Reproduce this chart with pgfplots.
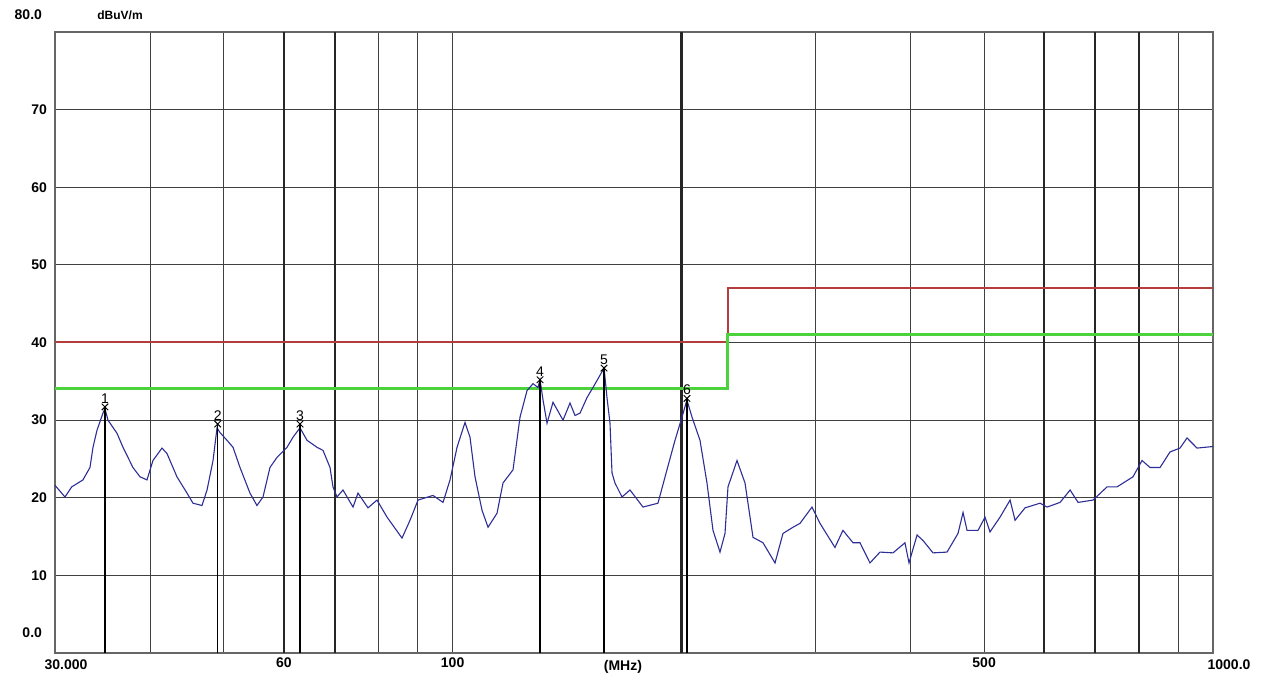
\documentclass[border=0pt]{standalone}
\usepackage{pgfplots}
\pgfplotsset{compat=1.18}
\usepackage{fontspec}
\setmainfont{Liberation Sans}
\definecolor{limred}{RGB}{180,62,62}
\definecolor{limgreen}{RGB}{75,210,60}
\definecolor{trace}{RGB}{45,45,150}
\begin{document}
\begin{tikzpicture}
\useasboundingbox (-27.5pt,-11pt) rectangle (608.5pt,326.5pt);
\begin{axis}[at={(0,0)}, anchor=south west, scale only axis,
  width=579pt, height=310.5pt,
  xmode=log, log basis x=10, xmin=30, xmax=1000, ymin=0, ymax=80,
  xtick={60,100,500}, xticklabels={60,100,500},
  minor xtick={40,50,70,80,90,200,300,400,600,700,800,900},
  extra x ticks={60,70,200,600,700,800}, extra x tick labels={},
  extra x tick style={grid=major, major grid style={black!85, line width=1.1pt}},
  ytick={10,20,30,40,50,60,70},
  yticklabels={10,20,30,40,50,60,70},
  /pgf/number format/assume math mode=true,
  grid=both,
  major grid style={black!75, line width=0.5pt},
  minor grid style={black!75, line width=0.5pt},
  major tick length=0pt, minor tick length=0pt,
  axis line style={black!60, line width=1pt},
  tick label style={font=\bfseries\fontsize{7}{8}\selectfont},
  yticklabel style={xshift=-0.5pt},
  xticklabel style={yshift=1pt},
  clip=false,
]
% limit lines
\addplot[limred, line width=1pt] coordinates {(30,40.1) (230,40.1) (230,47) (1000,47)};
\addplot[limgreen, line width=1.6pt] coordinates {(30,34.1) (230,34.1) (230,41) (1000,41)};
% trace
\addplot[trace, line width=0.55pt] coordinates {
(30.00,21.6) (30.92,20.1) (31.56,21.4) (32.65,22.3) (33.35,23.9) (33.66,26.5)
(34.07,28.7) (34.69,30.9) (34.90,31.5) (35.22,30.0) (36.20,28.3) (36.86,26.5)
(37.99,23.9) (38.81,22.7) (39.64,22.3) (40.36,24.8) (41.48,26.4) (42.11,25.7)
(43.40,22.7) (44.74,20.6) (45.56,19.3) (46.82,19.0) (47.54,21.0) (48.41,24.8)
(49.00,29.0) (49.44,28.4) (50.50,27.4) (51.43,26.5) (52.53,23.9) (54.14,20.6)
(55.30,19.0) (56.32,20.1) (57.52,23.9) (58.76,25.2) (60.57,26.5) (61.68,27.8)
(63.00,29.0) (64.35,27.4) (66.33,26.5) (67.55,26.1) (68.99,23.9) (69.62,21.4)
(70.47,20.1) (71.76,21.0) (73.97,18.8) (75.10,20.6) (77.41,18.7) (79.55,19.7)
(81.99,17.5) (85.80,14.8) (87.90,17.1) (90.06,19.7) (94.24,20.3) (97.14,19.4)
(99.22,22.3) (101.35,26.5) (103.83,29.7) (105.41,27.8) (107.02,22.7) (109.31,18.4)
(111.32,16.2) (114.39,18.0) (116.49,21.9) (120.07,23.6) (122.65,30.4) (125.27,33.8)
(127.57,34.7) (129.52,34.2) (130.3,35.2) (131.49,32.6) (133.10,29.6) (135.53,32.3)
(139.70,30.0) (142.69,32.2) (144.87,30.6) (147.08,30.9) (150.23,32.9) (152.98,34.2)
(158.2,36.7) (159.61,32.9) (161.07,29.6) (162.04,23.2) (163.52,21.9) (167.03,20.1)
(171.12,21.0) (177.99,18.8) (186.26,19.3) (191.40,23.6) (196.10,27.4) (200.30,30.4)
(203.3,32.6) (206.45,30.4) (211.51,27.4) (216.04,21.9) (220.0,15.8) (224.72,13.0)
(228.15,15.4) (230.23,21.4) (236.59,24.8) (242.40,21.9) (248.34,14.9) (255.98,14.2)
(265.45,11.6) (271.95,15.4) (280.31,16.2) (286.31,16.7) (296.93,18.8) (304.2,16.7)
(318.3,13.6) (326.1,15.8) (336.2,14.2) (343.4,14.2) (353.9,11.6) (364.8,13.0)
(379.5,12.9) (393.5,14.2) (398.3,11.6) (408.1,15.2) (415.5,14.5) (428.3,12.9)
(446.9,13.0) (462.0,15.4) (469.1,18.1) (474.8,15.8) (483.5,15.8) (490.9,15.8)
(501.4,17.5) (509.0,15.6) (524.7,17.5) (540.9,19.7) (549.1,17.1) (566.0,18.7)
(592.3,19.3) (605.0,18.8) (629.3,19.4) (648.7,21.0) (664.6,19.4) (695.4,19.7)
(725.5,21.4) (747.8,21.4) (784.9,22.7) (806.6,24.8) (826.3,23.9) (851.8,23.9)
(877.9,25.9) (904.9,26.4) (924.3,27.7) (952.7,26.4) (1000,26.6)
};
% marker lines
\addplot[ycomb, black, line width=0.6pt, mark=none] coordinates {
(34.9,31.7) (49.1,29.5) (63.0,29.5) (130.3,35.2) (158.2,36.7) (203.3,32.8)};
% markers
\addplot[only marks, mark=x, mark size=2.3pt, black, line width=0.5pt,
  nodes near coords, point meta=explicit symbolic,
  every node near coord/.style={font=\fontsize{7}{8}\selectfont, anchor=south, inner sep=0.5pt, yshift=1pt}]
  coordinates {
(34.9,31.7) [1] (49.1,29.5) [2] (63.0,29.5) [3] (130.3,35.2) [4] (158.2,36.7) [5] (203.3,32.8) [6]};
% text labels
\node[anchor=east, font=\bfseries\fontsize{7}{8}\selectfont] at (axis cs:30,80) [xshift=-3pt, yshift=8.5pt] {80.0};
\node[anchor=east, font=\bfseries\fontsize{7}{8}\selectfont] at (axis cs:30,0) [xshift=-3pt, yshift=10pt] {0.0};
\node[font=\bfseries\fontsize{6}{7}\selectfont] at (axis cs:30,80) [xshift=32.5pt, yshift=8.5pt] {dBuV/m};
\node[anchor=north, font=\bfseries\fontsize{7}{8}\selectfont] at (axis cs:30,0) [xshift=5.5pt, yshift=0pt] {30.000};
\node[anchor=north, font=\bfseries\fontsize{7}{8}\selectfont] at (axis cs:167.5,0) {(MHz)};
\node[anchor=north, font=\bfseries\fontsize{7}{8}\selectfont] at (axis cs:1000,0) [xshift=8pt] {1000.0};
\end{axis}
\end{tikzpicture}
\end{document}
